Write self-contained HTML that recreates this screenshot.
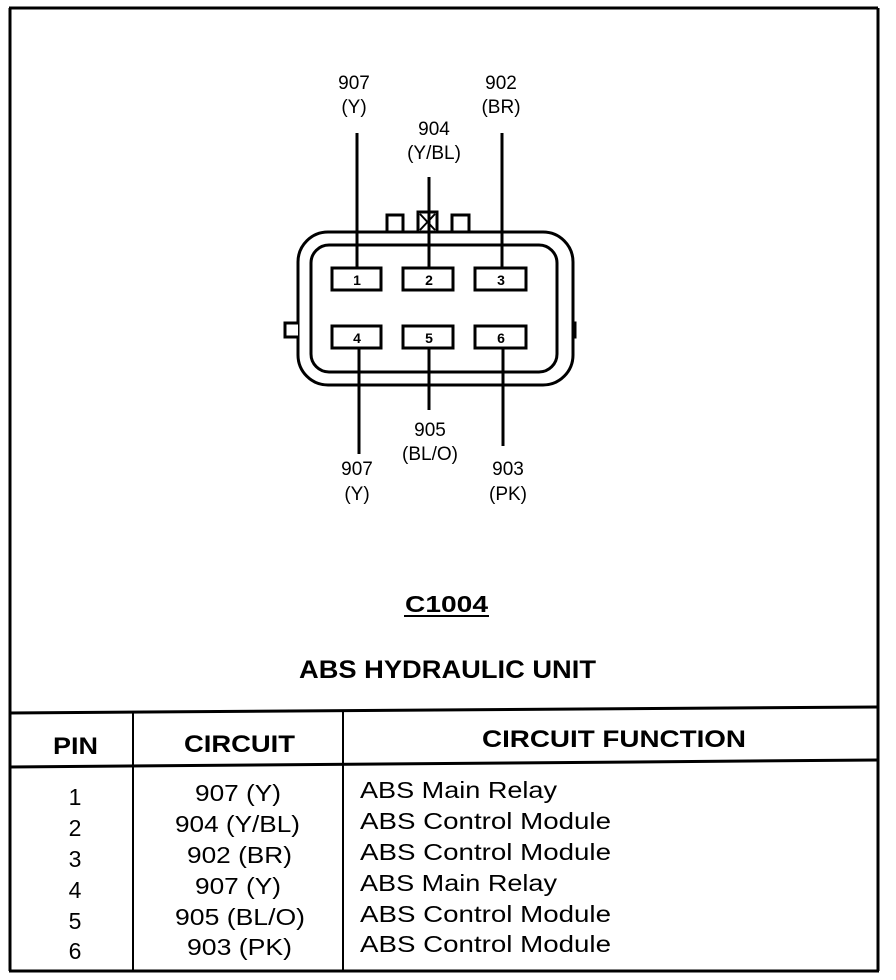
<!DOCTYPE html>
<html><head><meta charset="utf-8"><style>
body{margin:0;background:#fff;}
svg{display:block;}
text{font-family:"Liberation Sans",Arial,sans-serif;fill:#000;}
</style></head><body>
<svg width="896" height="980" viewBox="0 0 896 980" xmlns="http://www.w3.org/2000/svg">
<g stroke="#000" fill="none">
<line x1="9" y1="8" x2="878" y2="8" stroke-width="3"/>
<line x1="10" y1="8" x2="10" y2="971" stroke-width="3"/>
<line x1="878" y1="8" x2="878" y2="971" stroke-width="3"/>
<line x1="9" y1="971" x2="879" y2="971" stroke-width="3"/>
<line x1="9" y1="713" x2="878" y2="707" stroke-width="3"/>
<line x1="9" y1="767" x2="878" y2="760" stroke-width="3"/>
<line x1="133" y1="713" x2="133" y2="971" stroke-width="2"/>
<line x1="343" y1="712" x2="343" y2="971" stroke-width="2"/>
<rect x="298" y="232" width="275" height="153" rx="30" stroke-width="3"/>
<rect x="311" y="245" width="246" height="127" rx="18" stroke-width="3"/>
<path d="M298 323 H285 V337 H298" stroke-width="3" fill="#fff"/>
<path d="M573 323 H575 V337 H573" stroke-width="3"/>
<rect x="387" y="215" width="16" height="17" stroke-width="3"/>
<rect x="452" y="215" width="17" height="17" stroke-width="3"/>
<rect x="418" y="212" width="19" height="20" stroke-width="3"/>
<path d="M420 214 L435 230 M435 214 L420 230" stroke-width="2"/>
<rect x="332" y="268" width="49" height="22" stroke-width="3"/>
<rect x="403" y="268" width="50" height="22" stroke-width="3"/>
<rect x="475" y="268" width="51" height="22" stroke-width="3"/>
<rect x="332" y="326" width="49" height="22" stroke-width="3"/>
<rect x="403" y="326" width="50" height="22" stroke-width="3"/>
<rect x="475" y="326" width="51" height="22" stroke-width="3"/>
<line x1="357" y1="133" x2="357" y2="268" stroke-width="3"/>
<line x1="429" y1="177" x2="429" y2="268" stroke-width="3"/>
<line x1="502" y1="133" x2="502" y2="268" stroke-width="3"/>
<line x1="359" y1="348" x2="359" y2="454" stroke-width="3"/>
<line x1="429" y1="348" x2="429" y2="410" stroke-width="3"/>
<line x1="503" y1="348" x2="503" y2="446" stroke-width="3"/>
</g>
<g font-size="14" font-weight="bold" text-anchor="middle">
<text x="357" y="285">1</text><text x="429" y="285">2</text><text x="501" y="285">3</text>
<text x="357" y="343">4</text><text x="429" y="343">5</text><text x="501" y="343">6</text>
</g>
<g font-size="19" text-anchor="middle">
<text x="354" y="89">907</text><text x="354" y="113">(Y)</text>
<text x="501" y="89">902</text><text x="501" y="113">(BR)</text>
<text x="434" y="135">904</text><text x="434" y="159">(Y/BL)</text>
<text x="430" y="436">905</text><text x="430" y="460">(BL/O)</text>
<text x="357" y="475">907</text><text x="357" y="500">(Y)</text>
<text x="508" y="475">903</text><text x="508" y="500">(PK)</text>
</g>
<text x="405" y="612" font-size="23" font-weight="bold" textLength="83" lengthAdjust="spacingAndGlyphs">C1004</text>
<line x1="404" y1="616" x2="489" y2="616" stroke="#000" stroke-width="2"/>
<text x="299" y="678" font-size="25" font-weight="bold" textLength="297" lengthAdjust="spacingAndGlyphs">ABS HYDRAULIC UNIT</text>
<g font-size="24" font-weight="bold" lengthAdjust="spacingAndGlyphs">
<text x="53" y="754" textLength="45" lengthAdjust="spacingAndGlyphs">PIN</text>
<text x="184" y="752" textLength="111" lengthAdjust="spacingAndGlyphs">CIRCUIT</text>
<text x="482" y="747" textLength="264" lengthAdjust="spacingAndGlyphs">CIRCUIT FUNCTION</text>
</g>
<g font-size="23">
<g text-anchor="middle">
<text x="75" y="805">1</text><text x="75" y="836">2</text><text x="75" y="867">3</text>
<text x="75" y="898">4</text><text x="75" y="929">5</text><text x="75" y="959">6</text>
</g>
<text x="195" y="801" textLength="86" lengthAdjust="spacingAndGlyphs">907 (Y)</text>
<text x="175" y="832" textLength="125" lengthAdjust="spacingAndGlyphs">904 (Y/BL)</text>
<text x="187" y="863" textLength="105" lengthAdjust="spacingAndGlyphs">902 (BR)</text>
<text x="195" y="894" textLength="86" lengthAdjust="spacingAndGlyphs">907 (Y)</text>
<text x="175" y="925" textLength="130" lengthAdjust="spacingAndGlyphs">905 (BL/O)</text>
<text x="187" y="955" textLength="105" lengthAdjust="spacingAndGlyphs">903 (PK)</text>
<text x="360" y="798" textLength="197" lengthAdjust="spacingAndGlyphs">ABS Main Relay</text>
<text x="360" y="829" textLength="251" lengthAdjust="spacingAndGlyphs">ABS Control Module</text>
<text x="360" y="860" textLength="251" lengthAdjust="spacingAndGlyphs">ABS Control Module</text>
<text x="360" y="891" textLength="197" lengthAdjust="spacingAndGlyphs">ABS Main Relay</text>
<text x="360" y="922" textLength="251" lengthAdjust="spacingAndGlyphs">ABS Control Module</text>
<text x="360" y="952" textLength="251" lengthAdjust="spacingAndGlyphs">ABS Control Module</text>
</g>
</svg>
</body></html>
